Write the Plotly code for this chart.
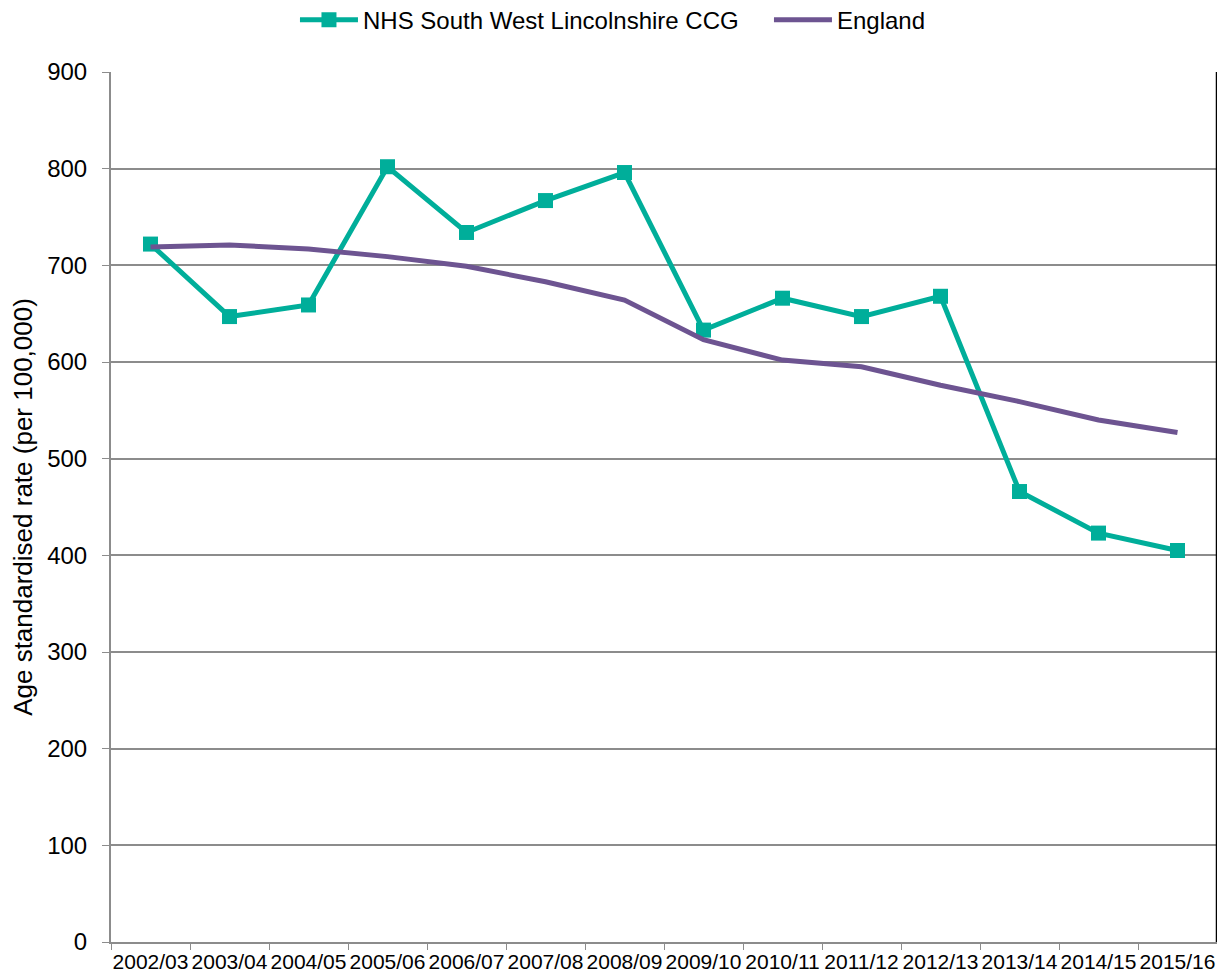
import plotly.graph_objects as go

years = ["2002/03", "2003/04", "2004/05", "2005/06", "2006/07", "2007/08", "2008/09",
         "2009/10", "2010/11", "2011/12", "2012/13", "2013/14", "2014/15", "2015/16"]
ccg = [722, 647, 659, 802, 734, 767, 796, 633, 666, 647, 668, 466, 423, 405]
england = [719, 721, 717, 709, 699, 683, 664, 623, 602, 595, 576, 559, 540, 527]

TEAL = '#00AE9A'
PURPLE = '#6D5491'
GRID = '#8C8C8C'

fig = go.Figure()

fig.add_trace(go.Scatter(
    x=years, y=ccg,
    mode='lines+markers',
    name='NHS South West Lincolnshire CCG',
    line=dict(color=TEAL, width=5),
    marker=dict(symbol='square', size=15, color=TEAL),
))

fig.add_trace(go.Scatter(
    x=years, y=england,
    mode='lines',
    name='England',
    line=dict(color=PURPLE, width=5),
))

# page body adds an 8px offset, so the figure is sized/margined to compensate
fig.update_layout(
    width=1217, height=970,
    paper_bgcolor='white',
    plot_bgcolor='white',
    font=dict(family="Liberation Sans, Arial, sans-serif", size=20, color='#000000'),
    margin=dict(l=103, r=8, t=64, b=36),
    showlegend=True,
    legend=dict(
        orientation='h', x=0.2358, xanchor='left', y=0.9876, yanchor='middle',
        yref='container', xref='container', font=dict(size=24),
        itemwidth=58, entrywidth=401, traceorder='normal',
        bgcolor='rgba(0,0,0,0)',
    ),
    shapes=[dict(type='line', xref='paper', yref='paper', x0=1, x1=1, y0=0, y1=1,
                 line=dict(color='black', width=2.5))],
)

fig.update_xaxes(
    type='category', tickson='boundaries', ticks='outside', ticklen=6,
    tickcolor=GRID, showline=True, linecolor=GRID, linewidth=2,
    showgrid=False, tickfont=dict(size=21), tickangle=0, range=[-0.5, 13.5],
    automargin=False,
)
fig.update_yaxes(
    range=[0, 900], dtick=100, ticks='outside', ticklen=7, tickcolor=GRID,
    showline=True, linecolor=GRID, linewidth=2,
    showgrid=True, gridcolor=GRID, gridwidth=2,
    tickfont=dict(size=24), zeroline=False, automargin=False,
    ticklabelstandoff=10,
    title=dict(text='Age standardised rate (per 100,000)', font=dict(size=26), standoff=24),
)

fig.write_html("out.html")
